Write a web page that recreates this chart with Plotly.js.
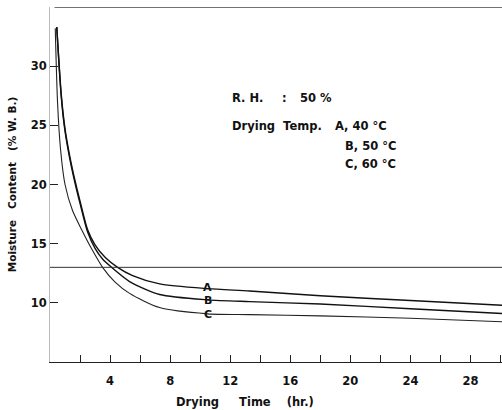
<!DOCTYPE html>
<html>
<head>
<meta charset="utf-8">
<script src="https://cdn.plot.ly/plotly-3.0.1.min.js"></script>
<style>html,body{margin:0;padding:0;background:#fff;}#chart{width:502px;height:410px;}</style>
</head>
<body>
<div id="chart"></div>
<script>
// Drying time (hr) and moisture content (% W.B.)
const hoursA = [0.45,0.75,1.0,1.33,1.67,2.0,2.5,3.0,3.7,4.5,5.5,7.3,10.5,13.3,18,24,30.1];
const moistA = [33.3,27.6,24.7,22.3,20.3,18.6,16.2,14.9,13.8,13.0,12.3,11.6,11.2,11.0,10.6,10.2,9.8];
const hoursB = [0.45,0.75,1.0,1.33,1.67,2.0,2.5,3.0,3.5,4.1,5.3,7.3,10.5,13.3,18,24,30.1];
const moistB = [33.3,27.4,24.5,22.1,20.1,18.4,16.0,14.6,13.7,13.0,11.8,10.7,10.25,10.1,9.9,9.5,9.1];
const hoursC = [0.35,0.5,0.7,1.0,1.5,2.1,2.8,3.5,4.3,5.3,7.3,10.5,13.3,18,24,30.1];
const moistC = [33.2,27.0,23.0,20.0,17.8,16.2,14.5,13.0,11.8,10.8,9.6,9.07,9.0,8.9,8.7,8.4];
const refLevel = 13;
const topLevel = 35;
const xTickVals = [0,2,4,6,8,10,12,14,16,18,20,22,24,26,28,30];
const xTickText = ['','','4','','8','','12','','16','','20','','24','','28',''];
const yTickVals = [10,15,20,25,30];
const yTickText = ['10','15','20','25','30'];
const curveLabels = ['A','B','C'];
const curveLabelX = 10.5;
const curveLabelY = [11.3, 10.2, 9.0];

const F = 'DejaVu Sans, Verdana, sans-serif';
const B = s => '<b>' + s + '</b>';
const traces = [
  {x: hoursA, y: moistA, mode: 'lines', line: {color: '#111', width: 1.4, shape: 'spline', smoothing: 0.7}, hoverinfo: 'skip'},
  {x: hoursB, y: moistB, mode: 'lines', line: {color: '#111', width: 1.4, shape: 'spline', smoothing: 0.7}, hoverinfo: 'skip'},
  {x: hoursC, y: moistC, mode: 'lines', line: {color: '#222', width: 1.1, shape: 'spline', smoothing: 0.7}, hoverinfo: 'skip'},
  {x: [0, 30.1], y: [refLevel, refLevel], mode: 'lines', line: {color: '#333', width: 1}, hoverinfo: 'skip'},
  {x: [0.3, 30.1], y: [topLevel, topLevel], mode: 'lines', line: {color: '#444', width: 1.5}, hoverinfo: 'skip', cliponaxis: false}
];

const ann = [];
curveLabels.forEach((t, i) => ann.push({x: curveLabelX, y: curveLabelY[i], text: B(t), showarrow: false, font: {family: F, size: 11, color: '#111'}, xanchor: 'center', yanchor: 'middle'}));
const txt = (x, y, t, size) => ann.push({xref: 'paper', yref: 'paper', x: x, y: y, text: B(t), showarrow: false, font: {family: F, size: size || 11.5, color: '#111'}, xanchor: 'left', yanchor: 'middle'});

const layout = {
  width: 502, height: 410,
  margin: {l: 50, r: 0, t: 7, b: 48},
  paper_bgcolor: '#fff', plot_bgcolor: '#fff',
  showlegend: false,
  font: {family: F, color: '#111'},
  xaxis: {
    range: [0, 30.1], showgrid: false, zeroline: false,
    showline: true, linecolor: '#222', linewidth: 1,
    tickmode: 'array', tickvals: xTickVals, ticktext: xTickText.map(t => t ? B(t) : ''),
    ticks: 'inside', ticklen: 7, tickcolor: '#222', tickwidth: 1,
    ticklabelstandoff: 8,
    tickfont: {family: F, size: 11.5, color: '#111'}
  },
  yaxis: {
    range: [5, 35], showgrid: false, zeroline: false,
    showline: true, linecolor: '#bbb', linewidth: 1,
    tickmode: 'array', tickvals: yTickVals, ticktext: yTickText.map(B),
    ticks: 'inside', ticklen: 8, tickcolor: '#222', tickwidth: 1,
    tickfont: {family: F, size: 11.5, color: '#111'},
    title: {text: B('Moisture&nbsp;&nbsp; Content&nbsp;&nbsp; (% W. B.)'), font: {family: F, size: 10.5, color: '#111'}, standoff: 12}
  },
  annotations: ann
};

// notes in plot-fraction coordinates (plot spans x 50..502, y 7..362 px)
const px = v => (v - 50) / 452;
const py = v => (362 - v) / 355;
txt(px(230), py(98), 'R. H.');
txt(px(280), py(98), ':');
txt(px(298), py(98), '50 %');
txt(px(230), py(126), 'Drying&nbsp; Temp.');
txt(px(333), py(126), 'A, 40 °C');
txt(px(343), py(146), 'B, 50 °C');
txt(px(343), py(164), 'C, 60 °C');
txt(px(174), py(402), 'Drying&nbsp;&nbsp;&nbsp;&nbsp; Time&nbsp;&nbsp;&nbsp; (hr.)', 11.5);

Plotly.newPlot('chart', traces, layout, {staticPlot: true, displayModeBar: false});
</script>
</body>
</html>
